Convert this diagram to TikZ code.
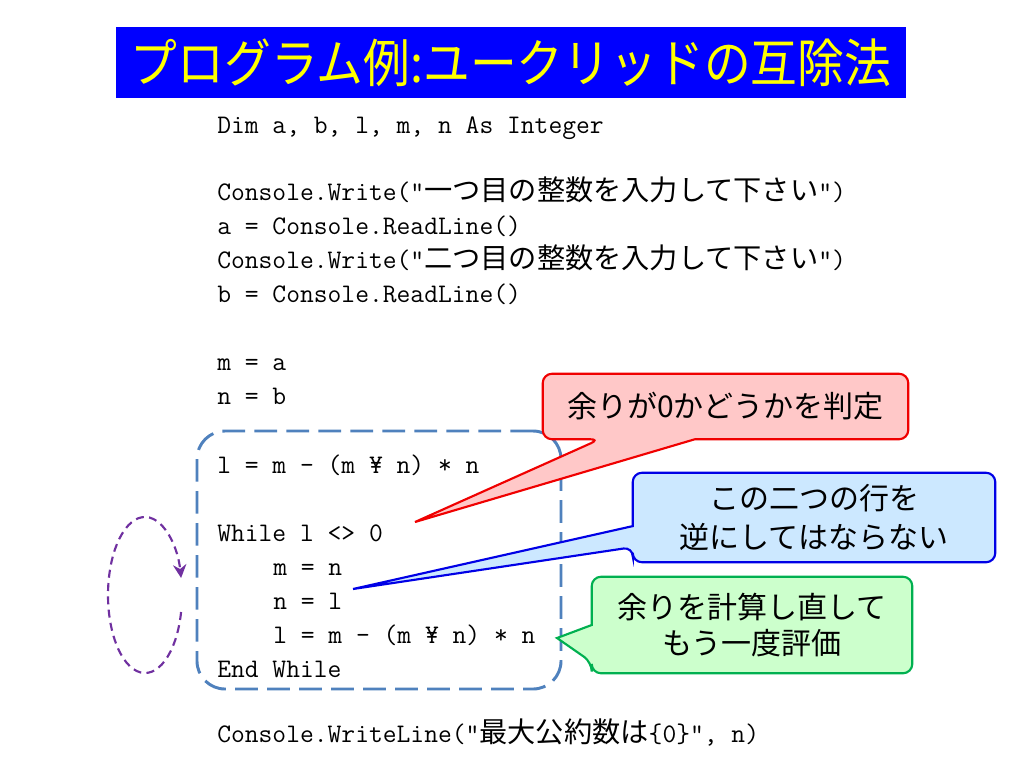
\documentclass[tikz,border=0pt]{standalone}
\usepackage{fontspec}
\usetikzlibrary{arrows.meta,calc}
\newfontfamily\cjk{Noto Sans CJK JP}
\newfontfamily\titlefont[FakeStretch=0.9]{Noto Sans CJK JP}
\newcommand\codejp[1]{{\cjk\fontsize{21.15}{21.15}\selectfont #1}}
\definecolor{titleblue}{RGB}{0,0,255}
\definecolor{titleyellow}{RGB}{255,255,0}
\definecolor{loopblue}{RGB}{79,129,189}
\definecolor{looppurple}{RGB}{112,48,160}
\definecolor{redfill}{RGB}{255,200,200}
\definecolor{redline}{RGB}{240,0,0}
\definecolor{bluefill}{RGB}{204,232,255}
\definecolor{blueline}{RGB}{0,0,230}
\definecolor{greenfill}{RGB}{204,255,204}
\definecolor{greenline}{RGB}{0,176,80}
\begin{document}
\begin{tikzpicture}[x=0.75pt,y=-0.75pt,
  code/.style={anchor=base west, inner sep=0pt, font=\ttfamily\fontsize{20.1}{20.1}\selectfont},
  titlebox/.style={rectangle, fill=titleblue, inner sep=0pt, text=titleyellow,
    minimum width=592.5pt, minimum height=53.25pt, font=\titlefont\fontsize{39}{39}\selectfont},
  loopbox/.style={rectangle, draw=loopblue, line width=2.2pt, rounded corners=21pt,
    dash pattern=on 17pt off 7pt, inner sep=0pt},
  looparrow/.style={draw=looppurple, line width=1.6pt, dash pattern=on 6pt off 4pt,
    -{Stealth[length=10pt,width=10pt]}},
  boxshape/.style={rectangle, inner sep=0pt, draw=none},
  redcall/.style={fill=redfill, draw=redline, line width=1.6pt, rounded corners=7pt},
  bluecall/.style={fill=bluefill, draw=blueline, line width=1.6pt, rounded corners=7pt},
  greencall/.style={fill=greenfill, draw=greenline, line width=1.6pt, rounded corners=7pt},
  calltext/.style={inner sep=0pt, align=center, text=black, font=\cjk\fontsize{22.5}{29}\selectfont}
]
\useasboundingbox (0,0) rectangle (1024,768);
\fill[white] (0,0) rectangle (1024,768);

% title
\node[titlebox] (title) at (511,62.5) {プログラム例:ユークリッドの互除法};

% code
\node[code] (c1) at (217,133) {Dim a, b, l, m, n As Integer};
\node[code] (c2) at (217,200) {Console.Write(”\codejp{一つ目の整数を入力して下さい}”)};
\node[code] (c3) at (217,234) {a = Console.ReadLine()};
\node[code] (c4) at (217,268) {Console.Write(”\codejp{二つ目の整数を入力して下さい}”)};
\node[code] (c5) at (217,302) {b = Console.ReadLine()};
\node[code] (c6) at (217,370) {m = a};
\node[code] (c7) at (217,404) {n = b};
\node[code] (c8) at (217,473) {l = m - (m ¥ n) * n};
\node[code] (c9) at (217,541) {While l <> 0};
\node[code] (c10) at (273,575) {m = n};
\node[code] (c11) at (273,609) {n = l};
\node[code] (c12) at (273,643) {l = m - (m ¥ n) * n};
\node[code] (c13) at (217,677) {End While};
\node[code] (c14) at (217,742) {Console.WriteLine(”\codejp{最大公約数は}\{0\}”, n)};

% loop box
\node[loopbox, minimum width=273pt, minimum height=193.5pt] (loop) at (379,560) {};

% loop arrow
\coordinate (loopstart) at (181.1,612);
\draw[looparrow] (loopstart) arc[start angle=12.6, end angle=347.4, x radius=37, y radius=78];

% red callout
\node[boxshape, minimum width=273.75pt, minimum height=48.75pt] (red) at (725.5,406.5) {};
\coordinate (redtip) at (415,522);
\draw[redcall] ($(red.south west)!0.416!(red.south east)$) -- (red.south east) -- (red.north east)
  -- (red.north west) -- (red.south west) -- ($(red.south west)!0.156!(red.south east)$)
  [sharp corners] -- (redtip) -- cycle;
\node[calltext] (redtext) at (red.center) {余りが0かどうかを判定};

% blue callout
\node[boxshape, minimum width=271.5pt, minimum height=66.75pt] (blue) at (814,517.5) {};
\coordinate (bluetip) at (353,589);
\draw[bluecall] ($(blue.north west)!0.596!(blue.south west)$) -- (blue.north west) -- (blue.north east)
  -- (blue.south east) -- (blue.south west) -- ($(blue.north west)!0.831!(blue.south west)$)
  [sharp corners] -- (bluetip) -- cycle;
\node[calltext] (bluetext) at (blue.center) {この二つの行を\\逆にしてはならない};

% green callout
\node[boxshape, minimum width=240pt, minimum height=72pt] (green) at (752,625) {};
\coordinate (greentip) at (557,638);
\draw[greencall] ($(green.north west)!0.5!(green.south west)$) -- (green.north west) -- (green.north east)
  -- (green.south east) -- (green.south west) -- ($(green.north west)!0.885!(green.south west)$)
  [sharp corners] -- (greentip) -- cycle;
\node[calltext, font=\cjk\fontsize{22.5}{26.5}\selectfont] (greentext) at (green.center) {余りを計算し直して\\もう一度評価};
\end{tikzpicture}
\end{document}
